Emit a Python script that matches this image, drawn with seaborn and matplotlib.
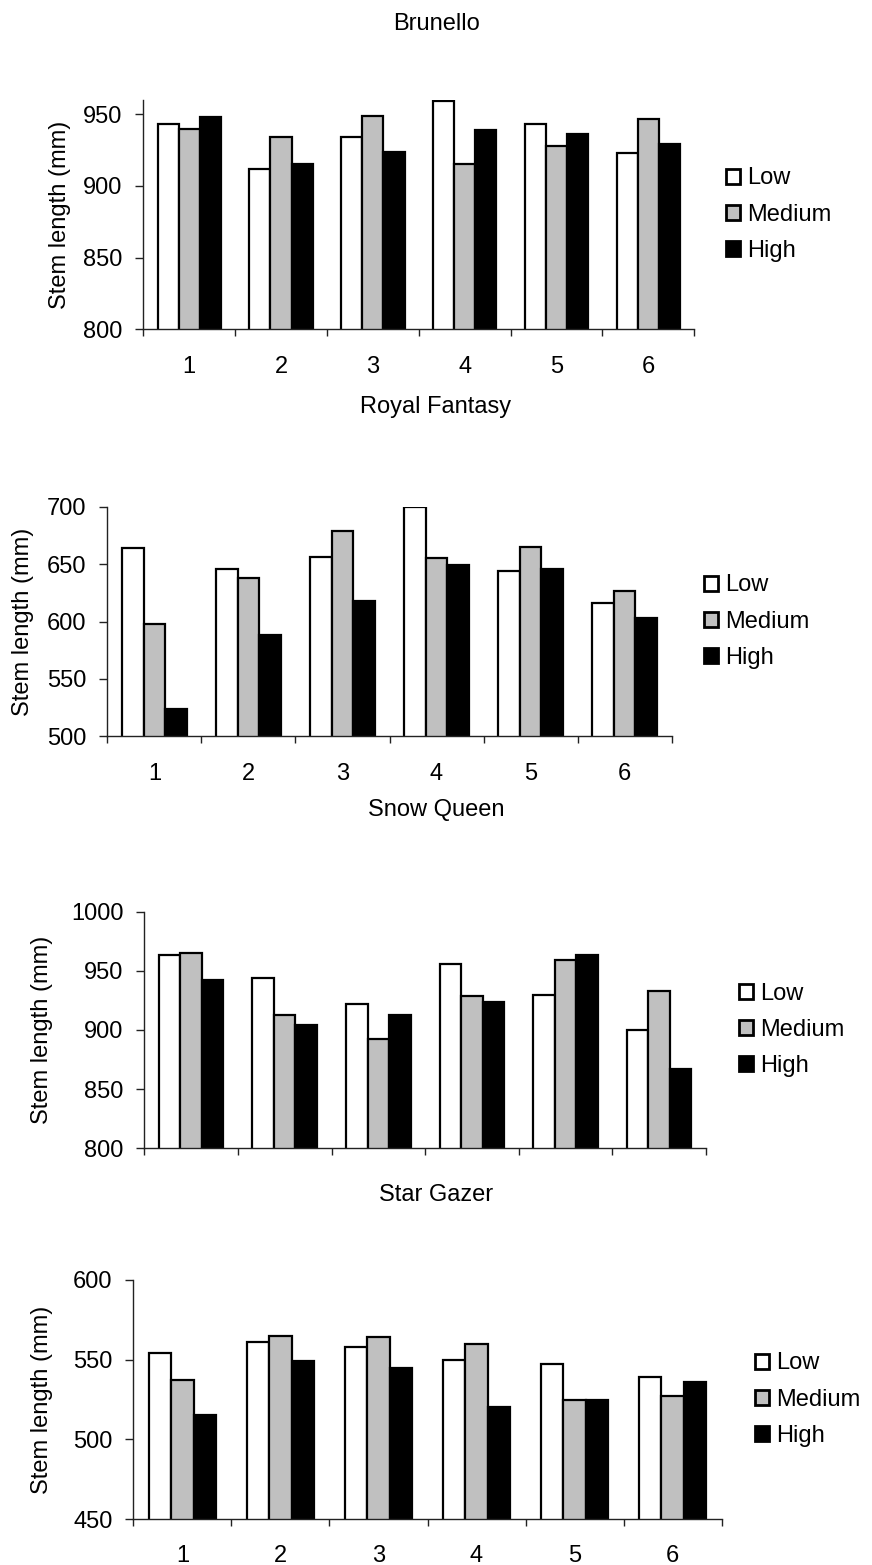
import numpy as np
import pandas as pd
import matplotlib
matplotlib.use("Agg")
import matplotlib.pyplot as plt
import seaborn as sns

# Stem length (mm) per treatment group for each cultivar
positions = ["1", "2", "3", "4", "5", "6"]
levels = ["Low", "Medium", "High"]

brunello_low = [943, 912, 934, 959, 943, 923]
brunello_medium = [940, 934, 949, 915, 928, 947]
brunello_high = [948, 915, 924, 939, 936, 929]

royal_low = [664, 646, 656, 700, 644, 616]
royal_medium = [598, 638, 679, 655, 665, 627]
royal_high = [524, 588, 618, 649, 646, 603]

snow_low = [963, 944, 922, 956, 930, 900]
snow_medium = [965, 913, 892, 929, 959, 933]
snow_high = [942, 904, 913, 924, 963, 867]

star_low = [554, 561, 558, 550, 547, 539]
star_medium = [537, 565, 564, 560, 525, 527]
star_high = [515, 549, 545, 520, 525, 536]

cultivars = ["Brunello", "Royal Fantasy", "Snow Queen", "Star Gazer"]
series = {
    "Brunello": (brunello_low, brunello_medium, brunello_high),
    "Royal Fantasy": (royal_low, royal_medium, royal_high),
    "Snow Queen": (snow_low, snow_medium, snow_high),
    "Star Gazer": (star_low, star_medium, star_high),
}
y_ranges = {
    "Brunello": (800, 960, [800, 850, 900, 950]),
    "Royal Fantasy": (500, 700, [500, 550, 600, 650, 700]),
    "Snow Queen": (800, 1000, [800, 850, 900, 950, 1000]),
    "Star Gazer": (450, 600, [450, 500, 550, 600]),
}

sns.set_style("ticks")
plt.rcParams["font.family"] = ["Liberation Sans", "DejaVu Sans"]
plt.rcParams["text.color"] = "black"
plt.rcParams["xtick.color"] = "black"
plt.rcParams["ytick.color"] = "black"
plt.rcParams["axes.labelcolor"] = "black"
FS = 17

W, H = 872, 1565
fig = plt.figure(figsize=(W / 100, H / 100), dpi=100)

# axes boxes in pixels: left, top, right, bottom
boxes = {
    "Brunello": (143.3, 100.0, 694.3, 329.3),
    "Royal Fantasy": (107.3, 506.7, 671.7, 736.3),
    "Snow Queen": (144.3, 911.7, 706.0, 1148.3),
    "Star Gazer": (133.3, 1280.0, 721.7, 1519.0),
}
title_y = {"Brunello": 24, "Royal Fantasy": 407, "Snow Queen": 810, "Star Gazer": 1195}
legend_x = {"Brunello": 726, "Royal Fantasy": 704, "Snow Queen": 739, "Star Gazer": 755}
ylabel_right = {"Brunello": 71, "Royal Fantasy": 34.5, "Snow Queen": 53, "Star Gazer": 53}
show_xlabels = {"Brunello": True, "Royal Fantasy": True, "Snow Queen": False, "Star Gazer": True}

palette = {"Low": "#FFFFFF", "Medium": "#C0C0C0", "High": "#000000"}

for name in cultivars:
    low, med, high = series[name]
    df = pd.DataFrame({
        "position": positions * 3,
        "level": ["Low"] * 6 + ["Medium"] * 6 + ["High"] * 6,
        "value": list(low) + list(med) + list(high),
    })
    l, t, r, b = boxes[name]
    ax = fig.add_axes([l / W, 1 - b / H, (r - l) / W, (b - t) / H])
    sns.barplot(data=df, x="position", y="value", hue="level", order=positions,
                hue_order=levels, palette=palette, width=0.69, edgecolor="black",
                linewidth=1.6, saturation=1, ax=ax, legend=True)

    ymin, ymax, yt = y_ranges[name]
    ax.set_ylim(ymin, ymax)
    ax.set_yticks(yt)
    ax.set_yticklabels([str(v) for v in yt], fontsize=FS)
    ax.set_xlim(-0.5, 5.5)
    ax.set_xticks(np.arange(-0.5, 6.0, 1.0))
    ax.set_xticklabels([])
    ax.set_xticks(np.arange(6), minor=True)
    if show_xlabels[name]:
        ax.set_xticklabels(positions, minor=True, fontsize=FS)
    else:
        ax.set_xticklabels([""] * 6, minor=True)
    ax.tick_params(axis="x", which="major", length=5, width=1, direction="out", color="#222222")
    ax.tick_params(axis="x", which="minor", length=0, pad=19)
    ax.tick_params(axis="y", length=5.8, width=1, direction="out", pad=9, color="#222222")

    for side in ["top", "right"]:
        ax.spines[side].set_visible(False)
    for side in ["left", "bottom"]:
        ax.spines[side].set_color("#222222")
        ax.spines[side].set_linewidth(1)

    ax.set_xlabel("")
    ax.set_ylabel("Stem length (mm)", fontsize=FS)
    ax.yaxis.set_label_coords((ylabel_right[name] - l) / (r - l), 0.5)

    handles, labels = ax.get_legend_handles_labels()
    ax.get_legend().remove()
    for h in handles:
        h.set_edgecolor("black")
        h.set_linewidth(2.0)
    fig.legend(handles, labels, loc="center left",
               bbox_to_anchor=(legend_x[name] / W, 1 - ((t + b) / 2) / H),
               frameon=False, fontsize=FS, handlelength=0.6, handleheight=0.6,
               handletextpad=0.3, labelspacing=0.6, borderpad=0, borderaxespad=0)

    fig.text(0.5, 1 - title_y[name] / H, name, ha="center", va="center", fontsize=FS)

fig.savefig("out.png", dpi=100)
